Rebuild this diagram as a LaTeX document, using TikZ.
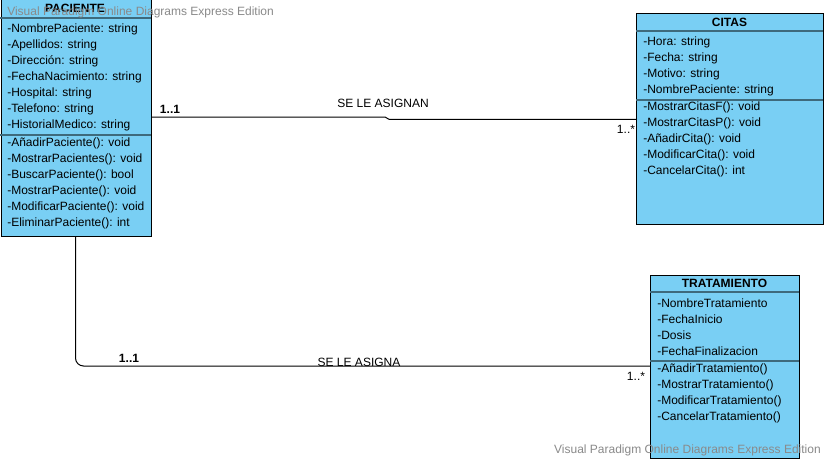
\documentclass[tikz,border=0pt]{standalone}
\usepackage{fontspec}
\setmainfont{Liberation Sans}
\definecolor{boxblue}{HTML}{79CFF4}
\definecolor{sepcol}{HTML}{3E6A7C}
\definecolor{wmgray}{HTML}{8A8A8A}
\tikzset{
  x=0.75pt, y=-0.75pt,
  cls/.style={draw=black, fill=boxblue, line width=0.75pt, inner sep=0, anchor=north west},
  sepline/.style={draw=sepcol, line width=1.5pt},
  txt/.style={font=\fontsize{9}{10}\selectfont, anchor=west, inner sep=0},
  ttl/.style={font=\fontsize{9}{10}\selectfont\bfseries, anchor=center, inner sep=0},
  lbl/.style={font=\fontsize{9}{10}\selectfont, inner sep=0},
  assoc/.style={draw=black, line width=0.75pt},
  wm/.style={font=\fontsize{9}{10}\selectfont, text=wmgray, inner sep=0}
}
\begin{document}
\begin{tikzpicture}
\useasboundingbox (0,0) rectangle (826,461);
\fill[white] (0,0) rectangle (826,461);

% PACIENTE
\node[cls, minimum width=112.5pt, minimum height=177.75pt] (pac) at (0.5,-1) {};
\draw[sepline] (0.5,18) -- (150.5,18);
\draw[sepline] (0.5,135) -- (150.5,135);
\node[ttl] (pact) at (75,8) {PACIENTE};
\node[txt] (pa1) at (7,29) {-NombrePaciente: string};
\node[txt] (pa2) at (7,45) {-Apellidos: string};
\node[txt] (pa3) at (7,61) {-Dirección: string};
\node[txt] (pa4) at (7,77) {-FechaNacimiento: string};
\node[txt] (pa5) at (7,93) {-Hospital: string};
\node[txt] (pa6) at (7,109) {-Telefono: string};
\node[txt] (pa7) at (7,125) {-HistorialMedico: string};
\node[txt] (pm1) at (7,143) {-AñadirPaciente(): void};
\node[txt] (pm2) at (7,159) {-MostrarPacientes(): void};
\node[txt] (pm3) at (7,175) {-BuscarPaciente(): bool};
\node[txt] (pm4) at (7,191) {-MostrarPaciente(): void};
\node[txt] (pm5) at (7,207) {-ModificarPaciente(): void};
\node[txt] (pm6) at (7,223) {-EliminarPaciente(): int};

% CITAS
\node[cls, minimum width=140.25pt, minimum height=158.25pt] (cit) at (636,13) {};
\draw[sepline] (636,31) -- (823,31);
\draw[sepline] (636,100) -- (823,100);
\node[ttl] (citt) at (729.5,22) {CITAS};
\node[txt] (ca1) at (643,42) {-Hora: string};
\node[txt] (ca2) at (643,58) {-Fecha: string};
\node[txt] (ca3) at (643,74) {-Motivo: string};
\node[txt] (ca4) at (643,90) {-NombrePaciente: string};
\node[txt] (cm1) at (643,107) {-MostrarCitasF(): void};
\node[txt] (cm2) at (643,123) {-MostrarCitasP(): void};
\node[txt] (cm3) at (643,139) {-AñadirCita(): void};
\node[txt] (cm4) at (643,155) {-ModificarCita(): void};
\node[txt] (cm5) at (643,171) {-CancelarCita(): int};

% TRATAMIENTO
\node[cls, minimum width=111.75pt, minimum height=137.25pt] (tra) at (650,275) {};
\draw[sepline] (650,292) -- (799,292);
\draw[sepline] (650,361) -- (799,361);
\node[ttl] (trat) at (724.5,283) {TRATAMIENTO};
\node[txt] (ta1) at (657,303) {-NombreTratamiento};
\node[txt] (ta2) at (657,319) {-FechaInicio};
\node[txt] (ta3) at (657,335) {-Dosis};
\node[txt] (ta4) at (657,351) {-FechaFinalizacion};
\node[txt] (tm1) at (657,369) {-AñadirTratamiento()};
\node[txt] (tm2) at (657,385) {-MostrarTratamiento()};
\node[txt] (tm3) at (657,401) {-ModificarTratamiento()};
\node[txt] (tm4) at (657,417) {-CancelarTratamiento()};

% Association PACIENTE - CITAS
\coordinate (b1) at (385,117);
\coordinate (b2) at (389,119.3);
\draw[assoc] (b1 -| pac.east) -- (b1) -- (b2) -- (b2 -| cit.west);
\node[lbl] (l1) at (383,103) {SE LE ASIGNAN};
\node[lbl, font=\fontsize{9}{10}\selectfont\bfseries] (m1) at (170,109) {1..1};
\node[lbl] (m2) at (626,129) {1..*};

% Association PACIENTE - TRATAMIENTO
\coordinate (c2) at (75.5,366);
\draw[assoc, rounded corners=6pt] (c2 |- pac.south) -- (c2) -- (c2 -| tra.west);
\node[lbl] (l2) at (359,362) {SE LE ASIGNA};
\node[lbl, font=\fontsize{9}{10}\selectfont\bfseries] (m3) at (129,358) {1..1};
\node[lbl] (m4) at (636,376) {1..*};

% watermarks
\node[wm, anchor=west] (w1) at (7,12) {Visual Paradigm Online Diagrams Express Edition};
\node[wm, anchor=east] (w2) at (821,450) {Visual Paradigm Online Diagrams Express Edition};
\end{tikzpicture}
\end{document}
